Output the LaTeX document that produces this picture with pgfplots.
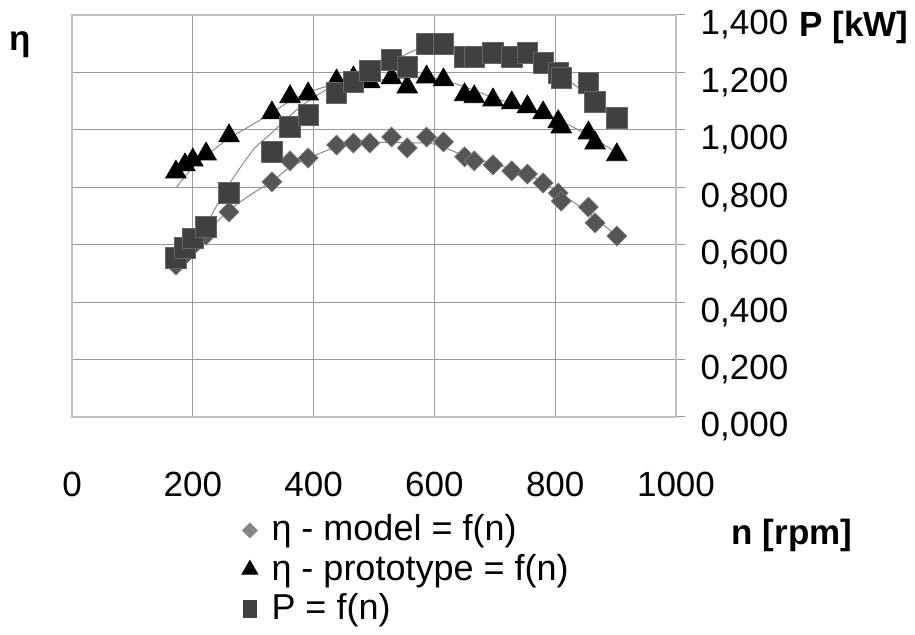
\documentclass[border=0pt]{standalone}
\usepackage{fontspec}
\setmainfont{Liberation Sans}
\usepackage{pgfplots}
\pgfplotsset{compat=1.18}
\usepackage{pgfplotstable}
\definecolor{dia}{HTML}{555555}
\definecolor{sq}{HTML}{404040}
\definecolor{trend}{HTML}{8A8A8A}
\pgfplotstableread{
x    model  proto  P
172  0.529  0.853  0.554
187  0.564  0.878  0.589
200  0.596  0.895  0.623
222  0.634  0.916  0.662
260  0.714  0.979  0.780
331  0.819  1.059  0.923
361  0.892  1.115  1.010
391  0.902  1.125  1.052
438  0.947  1.170  1.129
466  0.954  1.181  1.167
493  0.954  1.167  1.205
529  0.975  1.181  1.243
555  0.937  1.149  1.219
587  0.975  1.184  1.299
615  0.958  1.174  1.299
650  0.906  1.122  1.254
666  0.892  1.115  1.254
697  0.878  1.104  1.268
728  0.857  1.094  1.254
754  0.846  1.080  1.268
780  0.815  1.059  1.233
805  0.780  1.028  1.198
810  0.752  1.010  1.181
855  0.731  0.989  1.163
866  0.676  0.954  1.097
902  0.630  0.913  1.041
}\data
\begin{document}
\fontsize{17}{20}\selectfont
\begin{tikzpicture}
\begin{axis}[
  scale only axis, width=302pt, height=201pt,
  at={(0,0)}, anchor=south west,
  xmin=0, xmax=1000, ymin=0, ymax=1.4,
  xtick={0,200,400,600,800,1000},
  ytick={0,0.2,0.4,0.6,0.8,1.0,1.2,1.4},
  grid=major, grid style={black!40, line width=0.6pt},
  axis line style={black!25, line width=0.7pt},
  xtick pos=bottom, ytick pos=right, yticklabel pos=right,
  x tick style={draw=none},
  y tick style={black!40, line width=0.5pt},
  tick align=outside, major tick length=4.5pt,
  /pgf/number format/assume math mode=true,
  x tick label style={/pgf/number format/1000 sep={}, yshift=-17pt, font=\fontsize{17.5}{20}\selectfont},
  y tick label style={/pgf/number format/.cd, fixed, fixed zerofill, precision=3, use comma, 1000 sep={}, /tikz/.cd, yshift=-5pt, xshift=2pt, font=\fontsize{17.5}{20}\selectfont},
  legend style={draw=none, fill=none, at={(0.255,-0.225)}, anchor=north west,
    font=\fontsize{18}{21}\selectfont, row sep=1pt, nodes={inner sep=1.5pt}},
  legend cell align=left,
  legend image code/.code={\path (0cm,0cm) (0.62cm,0cm); \draw[mark repeat=2,mark phase=2,#1] plot coordinates {(0cm,0cm) (0.3cm,0cm) (0.6cm,0cm)};},
]
\addplot[only marks, mark=square*, mark size=3.5pt, mark options={rotate=45, fill=dia, draw=dia!80!white}, forget plot] table[x=x, y=model] {\data};
\addplot[only marks, mark=triangle*, mark size=5.9pt, mark options={fill=black, draw=black}, forget plot] table[x=x, y=proto] {\data};
\addplot[only marks, mark=square*, mark size=5.1pt, mark options={fill=sq, draw=sq!80!white}, forget plot] table[x=x, y=P] {\data};
% trend lines
\addplot[trend, line width=0.5pt, smooth, forget plot] coordinates {
 (173,0.495) (200,0.58) (222,0.64) (260,0.72) (300,0.78) (331,0.82) (361,0.87) (391,0.90) (438,0.94) (493,0.955) (555,0.955) (600,0.95) (650,0.91) (700,0.88) (750,0.85) (800,0.79) (856,0.71) (902,0.63)};
\addplot[trend, line width=0.5pt, smooth, forget plot] coordinates {
 (173,0.80) (200,0.87) (222,0.91) (260,0.97) (300,1.02) (331,1.06) (361,1.10) (391,1.13) (438,1.16) (493,1.17) (555,1.18) (600,1.18) (650,1.15) (700,1.11) (750,1.08) (800,1.04) (856,0.98) (902,0.92)};
\addplot[trend, line width=0.5pt, smooth, forget plot] coordinates {
 (174,0.51) (200,0.60) (222,0.67) (260,0.81) (300,0.93) (331,0.99) (361,1.05) (391,1.10) (438,1.16) (493,1.21) (530,1.24) (560,1.27) (600,1.30) (650,1.28) (700,1.26) (750,1.24) (800,1.20) (856,1.12) (902,1.04)};
\addlegendimage{only marks, mark=square*, mark size=2.6pt, mark options={rotate=45, fill=gray!95, draw=gray!95}}
\addlegendentry{η - model = f(n)}
\addlegendimage{only marks, mark=triangle*, mark size=4.6pt, mark options={fill=black, draw=black}}
\addlegendentry{η - prototype = f(n)}
\addlegendimage{only marks, mark=square*, mark size=4.2pt, mark options={fill=sq, draw=sq, xscale=0.75}}
\addlegendentry{P = f(n)}
\end{axis}
\node[font=\bfseries\fontsize{17.5}{20}\selectfont] at (-26pt,186pt) {η};
\node[font=\bfseries\fontsize{17.5}{20}\selectfont] at (391pt,195pt) {P [kW]};
\node[font=\bfseries\fontsize{17.5}{20}\selectfont] at (360pt,-59pt) {n [rpm]};
\pgfresetboundingbox
\useasboundingbox (-36pt,-109pt) rectangle (421.5pt,208.5pt);
\end{tikzpicture}
\end{document}
